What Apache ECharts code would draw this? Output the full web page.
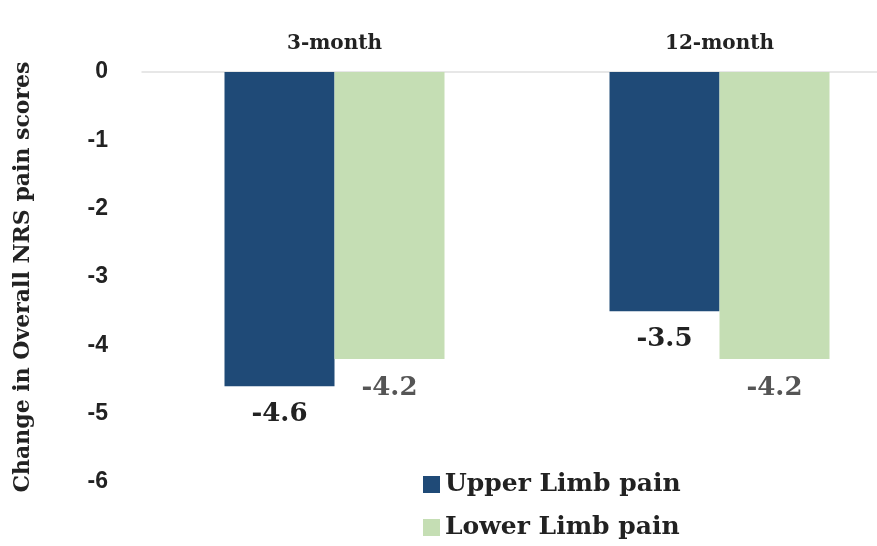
<!DOCTYPE html>
<html>
<head>
<meta charset="utf-8">
<script src="https://cdn.jsdelivr.net/npm/echarts@6/dist/echarts.min.js"></script>
<style>
  html, body { margin: 0; padding: 0; background: #fff; }
  #chart { width: 877px; height: 546px; }
</style>
</head>
<body>
<div id="chart"></div>
<script>
// data
var categories = ['3-month', '12-month'];
var upperLimb = [-4.6, -3.5];
var lowerLimb = [-4.2, -4.2];
var seriesNames = ['Upper Limb pain', 'Lower Limb pain'];

var chart = echarts.init(document.getElementById('chart'));

var serif = '"DejaVu Serif", "Liberation Serif", serif';

var option = {
    animation: false,
    backgroundColor: '#fff',
    grid: {
        left: 142,
        top: 72,
        width: 770,
        height: 410,
        outerBoundsMode: 'none'
    },
    legend: {
        orient: 'vertical',
        left: 418,
        top: 467,
        itemWidth: 17,
        itemHeight: 17,
        itemGap: 18,
        icon: 'rect',
        textStyle: {
            fontFamily: serif,
            fontWeight: 'bold',
            fontSize: 25,
            color: '#222'
        },
        data: seriesNames
    },
    xAxis: {
        type: 'category',
        position: 'top',
        data: categories,
        axisLine: { lineStyle: { color: '#e0e0e0', width: 1.5 } },
        axisTick: { show: false },
        axisLabel: {
            margin: 18,
            fontFamily: serif,
            fontWeight: 'bold',
            fontSize: 20,
            color: '#222'
        }
    },
    yAxis: {
        type: 'value',
        min: -6,
        max: 0,
        interval: 1,
        name: 'Change in Overall NRS pain scores',
        nameLocation: 'middle',
        nameGap: 108,
        nameTextStyle: {
            fontFamily: serif,
            fontWeight: 'bold',
            fontSize: 22,
            color: '#222'
        },
        axisLine: { show: false },
        axisTick: { show: false },
        splitLine: { show: false },
        axisLabel: {
            margin: 34,
            fontFamily: '"Liberation Sans", Arial, sans-serif',
            fontWeight: 'bold',
            fontSize: 23,
            color: '#222'
        }
    },
    series: [
        {
            name: seriesNames[0],
            type: 'bar',
            data: upperLimb,
            barWidth: 110,
            barGap: '0%',
            itemStyle: { color: '#1f4a77' },
            label: {
                show: true,
                position: 'bottom',
                distance: 15,
                fontFamily: serif,
                fontWeight: 'bold',
                fontSize: 26,
                color: '#222'
            }
        },
        {
            name: seriesNames[1],
            type: 'bar',
            data: lowerLimb,
            barWidth: 110,
            barGap: '0%',
            itemStyle: { color: '#c5deb4' },
            label: {
                show: true,
                position: 'bottom',
                distance: 16,
                fontFamily: serif,
                fontWeight: 'bold',
                fontSize: 26,
                color: '#555'
            }
        }
    ]
};

chart.setOption(option);
</script>
</body>
</html>
